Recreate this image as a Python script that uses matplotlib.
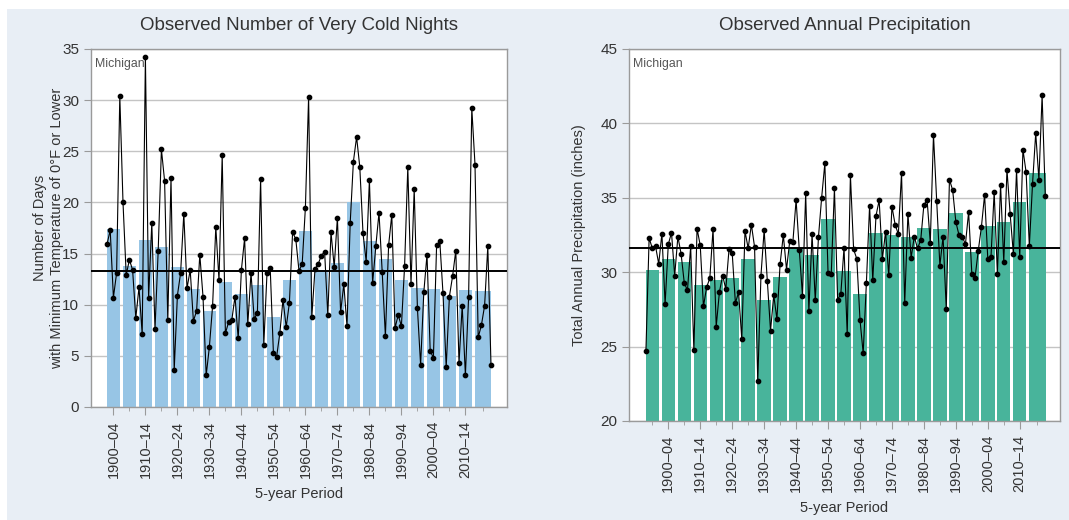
import numpy as np
import matplotlib
matplotlib.use('Agg')
import matplotlib.pyplot as plt
from matplotlib.patches import Rectangle

plt.rcParams['font.family'] = ['Liberation Sans', 'DejaVu Sans']

# Very cold nights (days with Tmin <= 0F), Michigan, 1900-2020
cold_years = list(range(1900, 2021))
cold_days = [15.9, 17.3, 10.7, 13.1, 30.4,
             20.0, 12.9, 14.4, 13.4, 8.7,
             11.7, 7.1, 34.2, 10.65, 18.0,
             7.6, 15.3, 25.2, 22.1, 8.5,
             22.4, 3.6, 10.9, 13.1, 18.9,
             11.6, 13.4, 8.4, 9.4, 14.9,
             10.8, 3.1, 5.9, 9.9, 17.6,
             12.4, 24.6, 7.2, 8.3, 8.5,
             10.8, 6.7, 13.4, 16.5, 8.1,
             13.1, 8.6, 9.2, 22.3, 6.1,
             13.1, 13.6, 5.3, 4.9, 7.2,
             10.5, 7.8, 10.2, 17.1, 16.4,
             13.3, 14.0, 19.5, 30.3, 8.8,
             13.5, 14.0, 14.8, 15.2, 9.0,
             17.1, 13.7, 18.5, 9.25, 12.0,
             7.9, 18.0, 24.0, 26.4, 23.45,
             17.0, 14.2, 22.2, 12.1, 15.7,
             19.0, 13.2, 6.9, 15.8, 18.8,
             7.7, 9.0, 7.9, 13.8, 23.45,
             12.0, 21.3, 9.7, 4.1, 11.2,
             14.9, 5.5, 4.8, 15.8, 16.2,
             11.1, 3.9, 10.8, 12.8, 15.3,
             4.3, 9.9, 3.1, 10.75, 29.2,
             23.7, 6.8, 8.0, 9.9, 15.7, 4.1]
cold_start = list(range(1900, 2020, 5))
cold_end = [s + 4 for s in cold_start[:-1]] + [2020]
cold_bars = [17.4, 13.8, 16.35, 15.6, 13.7, 11.5, 9.4, 12.2, 11.0, 11.9, 8.8, 12.4,
             17.2, 13.3, 14.1, 20.0, 16.25, 14.5, 12.4, 11.6, 11.5, 10.9, 11.4, 11.3]
cold_mean = 13.3

# Annual precipitation (inches), Michigan, 1895-2020
prcp_years = list(range(1895, 2021))
prcp = [24.73, 32.3, 31.6, 31.75, 30.56,
        32.6, 27.86, 31.87, 32.66, 29.77,
        32.39, 31.24, 29.28, 28.78, 31.73,
        24.77, 32.93, 31.8, 27.7, 28.99,
        29.6, 32.9, 26.35, 28.67, 29.77,
        28.87, 31.53, 31.3, 27.93, 28.65,
        25.5, 32.77, 31.6, 33.2, 31.7,
        22.68, 29.77, 32.84, 29.39, 26.08,
        28.45, 26.85, 30.56, 32.5, 30.18,
        32.07, 32.05, 34.86, 31.49, 28.42,
        35.3, 27.41, 32.55, 28.1, 32.36,
        35.02, 37.32, 29.95, 29.89, 35.63,
        28.15, 28.54, 31.64, 25.83, 36.53,
        31.53, 30.9, 26.8, 24.55, 29.28,
        34.46, 29.46, 33.78, 34.84, 30.86,
        32.73, 29.8, 34.41, 33.2, 32.55,
        36.67, 27.93, 33.94, 30.97, 32.39,
        31.6, 32.14, 34.53, 34.86, 31.98,
        39.23, 34.8, 30.45, 32.39, 27.55,
        36.22, 35.52, 33.38, 32.48, 32.39,
        31.87, 34.05, 29.91, 29.62, 31.42,
        33.04, 35.2, 30.9, 31.04, 35.4,
        29.89, 35.88, 30.68, 36.89, 33.9,
        31.24, 36.87, 31.01, 38.24, 36.71,
        31.76, 35.92, 39.35, 36.22, 41.89, 35.09]
prcp_start = list(range(1895, 2020, 5))
prcp_end = [s + 4 for s in prcp_start[:-1]] + [2020]
prcp_bars = [30.18, 30.9, 30.68, 29.17, 29.46, 29.62, 30.9, 28.1, 29.68, 31.6, 31.15,
             33.56, 30.11, 28.56, 32.66, 32.5, 32.36, 33.0, 32.88, 33.96, 31.35, 33.1,
             33.4, 34.75, 36.64]
prcp_mean = 31.65

bg = '#e8eef5'
grid_c = '#c4c4c4'
spine_c = '#9a9a9a'
text_c = '#333333'

fig = plt.figure(figsize=(10.69, 5.2), dpi=100, facecolor='white')
fig.patches.append(Rectangle((7 / 1069, 0), 1, 1 - 9 / 520, transform=fig.transFigure,
                             facecolor=bg, edgecolor='none', zorder=-10))


def draw_panel(ax, years, vals, starts, ends, bars, mean, color, ylim, yticks, xlim,
               title, ylabel, ylabelpad):
    starts = np.array(starts)
    ends = np.array(ends)
    centers = (starts + ends) / 2
    widths = ends - starts + 0.2
    ax.bar(centers, bars, width=widths, color=color, edgecolor='none', zorder=2)
    ax.plot(years, vals, color='black', lw=0.8, marker='o', ms=3.1, zorder=4)
    ax.axhline(mean, color='black', lw=1.4, zorder=5)

    ax.set_xlim(*xlim)
    ax.set_ylim(*ylim)
    ax.set_yticks(yticks)
    ax.yaxis.grid(True, color=grid_c, lw=1)
    ax.set_axisbelow(True)

    # major ticks on the decade periods, minor ticks on the others
    major = [c for s, c in zip(starts, centers) if s % 10 == 0 and s <= 2010]
    labels = ['%d\u2013%02d' % (s, (s + 4) % 100) for s in starts if s % 10 == 0 and s <= 2010]
    minor = [c for s, c in zip(starts, centers) if s % 10 != 0]
    ax.set_xticks(major)
    ax.set_xticklabels(labels, rotation=90, fontsize=10.5, color=text_c)
    ax.set_xticks(minor, minor=True)
    ax.tick_params(axis='x', which='major', length=6, color=spine_c, pad=4)
    ax.tick_params(axis='x', which='minor', length=3, color=spine_c)
    ax.tick_params(axis='y', length=5, color=spine_c, labelsize=11, labelcolor=text_c)

    for sp in ax.spines.values():
        sp.set_color(spine_c)
        sp.set_linewidth(1)

    ax.set_title(title, fontsize=13.5, color=text_c, pad=14)
    ax.set_ylabel(ylabel, fontsize=10.5, color=text_c, labelpad=ylabelpad)
    ax.set_xlabel('5-year Period', fontsize=10.5, color=text_c, labelpad=6)
    ax.text(0.01, 0.975, 'Michigan', transform=ax.transAxes, fontsize=8.8,
            color='#555555', ha='left', va='top')


ax1 = fig.add_axes([91 / 1069, 1 - 407 / 520, 416 / 1069, 358 / 520])
draw_panel(ax1, cold_years, cold_days, cold_start, cold_end, cold_bars, cold_mean,
           '#97c5e5', (0, 35), range(0, 36, 5), (1895, 2025),
           'Observed Number of Very Cold Nights',
           'Number of Days\nwith Minimum Temperature of 0\u00b0F or Lower', -1)

ax2 = fig.add_axes([629 / 1069, 1 - 421 / 520, 431 / 1069, 372 / 520])
draw_panel(ax2, prcp_years, prcp, prcp_start, prcp_end, prcp_bars, prcp_mean,
           '#48b49b', (20, 45), range(20, 46, 5), (1889.7, 2024.6),
           'Observed Annual Precipitation',
           'Total Annual Precipitation (inches)', 10)

plt.savefig('out.png', dpi=100, facecolor=fig.get_facecolor())
